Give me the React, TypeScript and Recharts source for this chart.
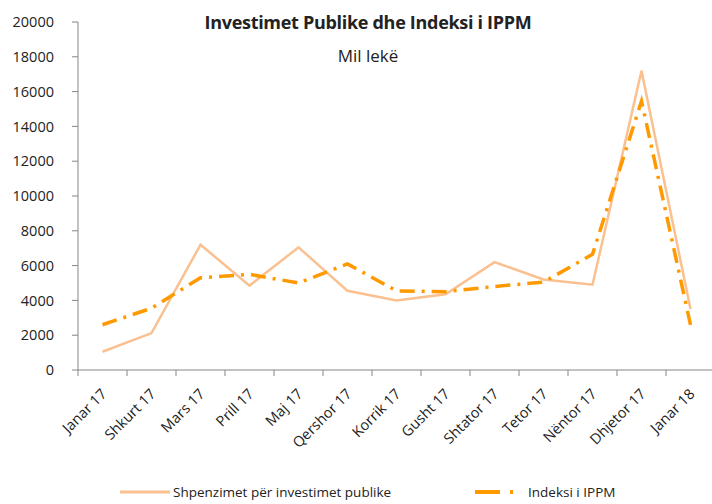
import React from "react";
import { LineChart, Line, XAxis, YAxis, Legend } from "recharts";

const categories = [
  "Janar 17", "Shkurt 17", "Mars 17", "Prill 17", "Maj 17", "Qershor 17", "Korrik 17",
  "Gusht 17", "Shtator 17", "Tetor 17", "Nëntor 17", "Dhjetor 17", "Janar 18",
];
const shpenzimet = [1050, 2120, 7200, 4850, 7050, 4550, 4000, 4350, 6200, 5200, 4900, 17200, 3500];
const indeksi = [2600, 3550, 5300, 5500, 5000, 6100, 4550, 4500, 4800, 5050, 6650, 15450, 2600];
const yTicks = [0, 2000, 4000, 6000, 8000, 10000, 12000, 14000, 16000, 18000, 20000];

const seriesNames = ["Shpenzimet për investimet publike", "Indeksi i IPPM"];

const data = categories.map((c, i) => ({ name: c, s: shpenzimet[i], idx: indeksi[i] }));

const FONT = "'Open Sans', sans-serif";
const CHART_W = 716;
const CHART_H = 504;
const M_LEFT = 0;
const Y_W = 78;
const M_RIGHT = 1;
const PLOT_W = CHART_W - M_LEFT - Y_W - M_RIGHT;
const BAND = PLOT_W / categories.length;
const AXIS_COLOR = "#868686";
const C1 = "#FAC090";
const C2 = "#FF9900";

const XTick = (props: any) => {
  const { x, y, payload } = props;
  const left = x - BAND / 2;
  const ax = x + 5;
  const ay = y + 17;
  return (
    <g>
      <line x1={left} y1={y - 8} x2={left} y2={y - 2} stroke={AXIS_COLOR} strokeWidth={1} />
      <text
        x={ax}
        y={ay}
        textAnchor="end"
        transform={`rotate(-45, ${ax}, ${ay})`}
        fontFamily={FONT}
        fontSize={14.5}
        fill="#222"
      >
        {payload.value}
      </text>
    </g>
  );
};

const LegendContent = () => (
  <svg width={712} height={24}>
    <line x1={120} y1={12} x2={170} y2={12} stroke={C1} strokeWidth={3} />
    <text x={173} y={17} fontFamily={FONT} fontSize={13.5} fill="#222">{seriesNames[0]}</text>
    <line x1={475} y1={12} x2={500} y2={12} stroke={C2} strokeWidth={4} />
    <line x1={510} y1={12} x2={513} y2={12} stroke={C2} strokeWidth={4} />
    <text x={528} y={17} fontFamily={FONT} fontSize={13.5} fill="#222">{seriesNames[1]}</text>
  </svg>
);

export default function App() {
  return (
    <div style={{ position: "absolute", left: 0, top: 0, width: 712, height: 504, overflow: "hidden", background: "#fff" }}>
      <div style={{ position: "absolute", left: 0, top: 10, width: 736, textAlign: "center", fontFamily: FONT, fontWeight: "bold", fontSize: 18, color: "#222", letterSpacing: -0.3 }}>
        Investimet Publike dhe Indeksi i IPPM
      </div>
      <div style={{ position: "absolute", left: 0, top: 44, width: 736, textAlign: "center", fontFamily: FONT, fontSize: 17, color: "#222" }}>
        Mil lekë
      </div>
      <LineChart width={CHART_W} height={CHART_H} data={data} margin={{ top: 22, right: M_RIGHT, left: M_LEFT, bottom: 36 }}>
        <XAxis
          dataKey="name"
          interval={0}
          height={70}
          tickLine={false}
          tick={<XTick />}
          stroke={AXIS_COLOR}
          padding={{ left: BAND / 2, right: BAND / 2 }}
        />
        <YAxis
          width={Y_W}
          domain={[0, 20000]}
          ticks={yTicks}
          interval={0}
          tickSize={6}
          tickMargin={18}
          stroke={AXIS_COLOR}
          tick={{ fill: "#222", fontSize: 14.5, fontFamily: FONT }}
        />
        <Legend verticalAlign="bottom" content={<LegendContent />} wrapperStyle={{ position: "absolute", left: 0, top: 480, width: 712 }} />
        <Line dataKey="s" name={seriesNames[0]} stroke={C1} strokeWidth={2.5} dot={false} isAnimationActive={false} />
        <Line dataKey="idx" name={seriesNames[1]} stroke={C2} strokeWidth={3.5} strokeDasharray="15 7 3 7" dot={false} isAnimationActive={false} />
      </LineChart>
    </div>
  );
}
